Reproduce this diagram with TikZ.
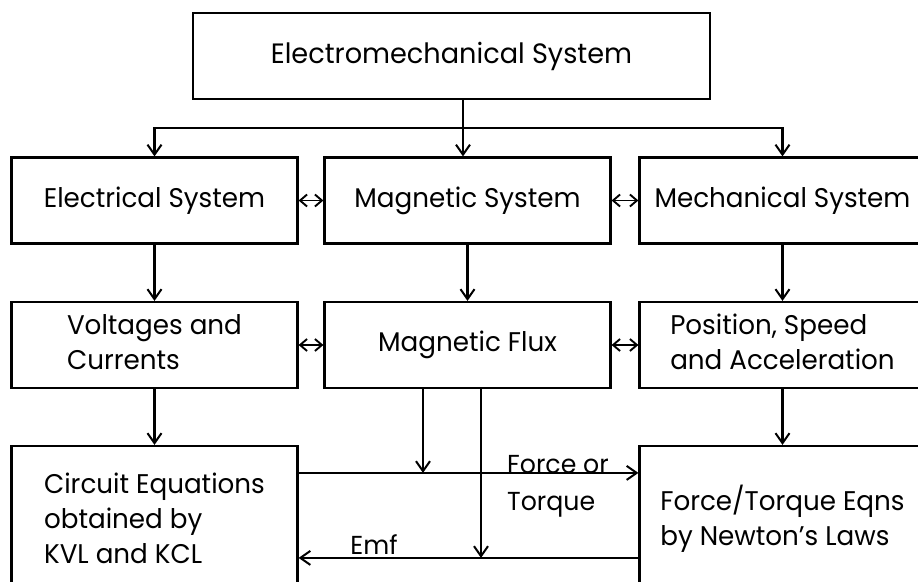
\documentclass[tikz,border=0pt]{standalone}
\usepackage{fontspec}
\setmainfont{Poppins}[FakeStretch=0.97]
\usetikzlibrary{arrows.meta, calc}

\begin{document}
\begin{tikzpicture}[
    x=1pt, y=-1pt,
    block/.style={draw, line width=2.2pt, inner sep=0pt, minimum width=#1,
                  minimum height=86pt, font=\fontsize{27}{35}\selectfont, align=center},
    block/.default=286pt,
    arr/.style={-{Straight Barb[length=10pt, width=14pt, line width=2pt]}, line width=2.2pt},
    both/.style={{Straight Barb[length=7pt, width=12pt, line width=1.9pt]}-{Straight Barb[length=7pt, width=12pt, line width=1.9pt]}, line width=1.9pt},
    lbl/.style={font=\fontsize{26}{37}\selectfont, align=left, inner sep=0pt},
]
\clip (0,0) rectangle (918,581);
\useasboundingbox (0,0) rectangle (918,581);

% Top
\node[block=517pt, font=\fontsize{28}{35}\selectfont] (sys) at (451.5,56) {Electromechanical System};

% Systems
\node[block] (elec) at (154.5,200.5) {Electrical System};
\node[block] (magn) at (467.5,200.5) {Magnetic System};
\node[block] (mech) at (782.5,200.5) {Mechanical System};

% Variables
\node[block] (volt) at (154.5,345) {\begin{tabular}{@{}l@{}}Voltages and\\Currents\end{tabular}};
\node[block] (flux) at (467.5,345) {Magnetic Flux};
\node[block] (pos)  at (782.5,345) {\begin{tabular}{@{}l@{}}Position, Speed\\and Acceleration\end{tabular}};

% Equations
\node[block, minimum height=150pt] (circ)  at (154.5,521) {\begin{tabular}{@{}l@{}}Circuit Equations\\obtained by\\KVL and KCL\end{tabular}};
\node[block, minimum height=150pt] (force) at (782.5,521) {\begin{tabular}{@{}l@{}}Force/Torque Eqns\\by Newton's Laws\end{tabular}};

% Distribution
\coordinate (bus) at (463,128);
\draw[arr] (sys.south -| bus) -- (bus |- magn.north);
\draw[arr] (bus) -| (elec.north);
\draw[arr] (bus) -| (mech.north);

% Down arrows
\draw[arr] (elec) -- (volt);
\draw[arr] (magn) -- (flux);
\draw[arr] (mech) -- (pos);
\draw[arr] (volt) -- (circ);
\draw[arr] (pos)  -- (force);

% Couplings
\draw[both] (elec) -- (magn);
\draw[both] (magn) -- (mech);
\draw[both] (volt) -- (flux);
\draw[both] (flux) -- (pos);

% Force and Emf paths
\coordinate (ft) at ([yshift=-28pt]circ.north east);
\coordinate (em) at ([yshift=-113pt]force.north west);
\draw[arr] (ft) -- (ft -| force.west);
\draw[arr] (em) -- (em -| circ.east);
\draw[arr] ([xshift=-44.5pt]flux.south) coordinate (fa) -- (fa |- ft);
\draw[arr] ([xshift=13.5pt]flux.south) coordinate (fb) -- (fb |- em);

% Labels
\node[lbl, anchor=west] (lforce) at (507,486) {Force or\\Torque};
\node[lbl] (lemf) at (374,545) {Emf};
\end{tikzpicture}
\end{document}
